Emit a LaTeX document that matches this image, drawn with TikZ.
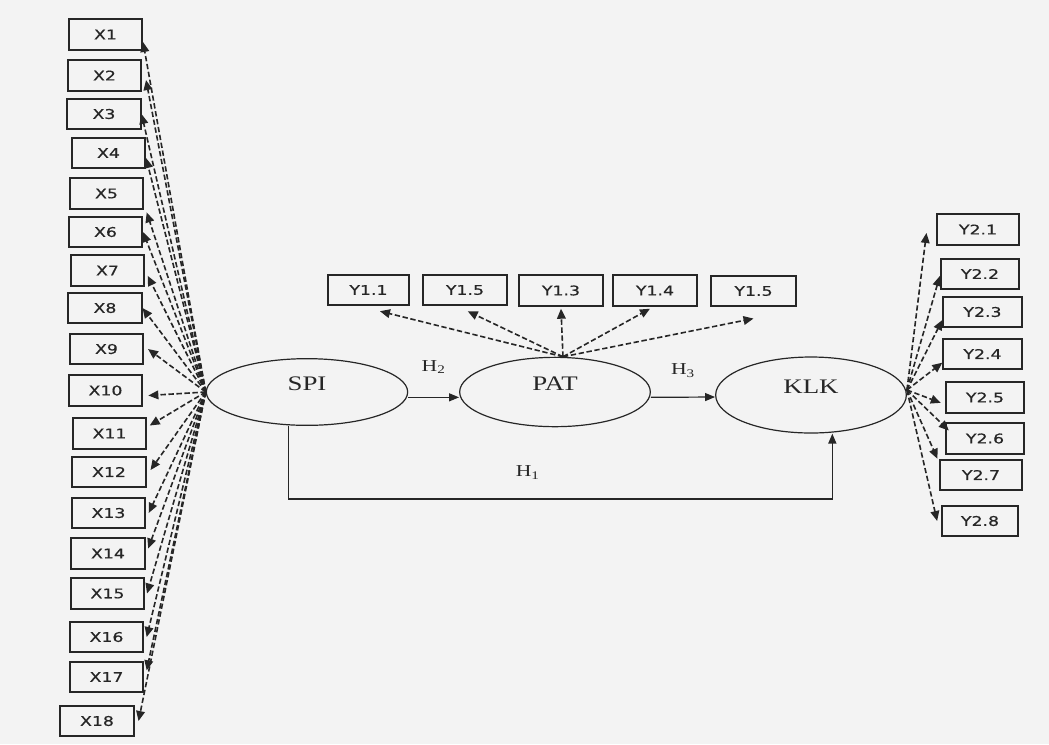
\documentclass[tikz,border=0pt]{standalone}
\usepackage{fontspec}
\setmainfont{Liberation Serif}[FakeStretch=1.3]
\newfontfamily\boxfont{DejaVu Sans}[FakeStretch=1.3,FakeBold=0.6]
\usetikzlibrary{positioning}
\usetikzlibrary{shapes.geometric}
\usetikzlibrary{arrows.meta}
\definecolor{ink}{HTML}{262626}
\definecolor{paper}{HTML}{F3F3F3}
\tikzset{ %indicator boxes and latent ellipses
  indbox/.style={draw=ink,line width=1.3pt,rectangle,minimum width=55pt,minimum height=23pt,
    inner sep=0pt,text=ink,font=\boxfont\fontsize{10}{12}\selectfont},
  latent/.style={draw=ink,ellipse,line width=0.9pt,inner sep=0pt,text depth=12pt,text=ink,
    font=\fontsize{15.5}{18}\selectfont}
}

\begin{document}
\begin{tikzpicture}[x=0.75pt,y=-0.75pt,
         ldg/.style={draw=ink,line width=1.2pt,dash pattern=on 4pt off 2pt,-{Triangle[length=7.5pt,width=6.5pt]}},
         hyp/.style={draw=ink,line width=0.9pt,-{Triangle[length=7.5pt,width=6pt]}},
         hlab/.style={text=ink,font=\fontsize{12.5}{14}\selectfont},
      every node/.append style={align=center}]
      % background
         \fill[paper] (0,0) rectangle (1049,744);
      % latent variables
         \node (spi) at (307,392) [latent,minimum width=151pt,minimum height=50pt] {SPI};
         \node (pat) at (555,392) [latent,minimum width=143pt,minimum height=52pt] {PAT};
         \node (klk) at (811,395) [latent,minimum width=143pt,minimum height=57pt] {KLK};
      %
         \node (x1) at (105.5,34.5) [indbox] {X1};
         \node (x2) at (104.5,75.5) [indbox] {X2};
         \node (x3) at (104,114) [indbox] {X3};
         \node (x4) at (108.5,153) [indbox] {X4};
         \node (x5) at (106.5,193.5) [indbox] {X5};
         \node (x6) at (105.5,232) [indbox] {X6};
         \node (x7) at (107.5,270.5) [indbox] {X7};
         \node (x8) at (105,308) [indbox] {X8};
         \node (x9) at (106.5,349) [indbox] {X9};
         \node (x10) at (105.5,390.5) [indbox] {X10};
         \node (x11) at (109.5,433.5) [indbox] {X11};
         \node (x12) at (109,472) [indbox] {X12};
         \node (x13) at (108.5,513) [indbox] {X13};
         \node (x14) at (108,553.5) [indbox] {X14};
         \node (x15) at (107.5,593.5) [indbox] {X15};
         \node (x16) at (106.5,637) [indbox] {X16};
         \node (x17) at (106.5,677) [indbox] {X17};
         \node (x18) at (97,721) [indbox] {X18};
         \draw[ldg] (spi.west) -- ([yshift=-5.6pt]x1.east);
         \draw[ldg] (spi.west) -- ([xshift=3pt,yshift=-3.4pt]x2.east);
         \draw[ldg] (spi.west) -- (x3.east);
         \draw[ldg] (spi.west) -- ([yshift=-3.75pt]x4.east);
         \draw[ldg] (spi.west) -- ([xshift=2pt,yshift=-2pt]x5.south east);
         \draw[ldg] (spi.west) -- (x6.east);
         \draw[ldg] (spi.west) -- ([xshift=2pt,yshift=-4pt]x7.east);
         \draw[ldg] (spi.west) -- (x8.east);
         \draw[ldg] (spi.west) -- ([xshift=3pt]x9.east);
         \draw[ldg] (spi.west) -- ([xshift=4pt,yshift=-3.75pt]x10.east);
         \draw[ldg] (spi.west) -- ([xshift=2pt,yshift=6pt]x11.east);
         \draw[ldg] (spi.west) -- ([xshift=3pt,yshift=1.5pt]x12.east);
         \draw[ldg] (spi.west) -- ([xshift=2pt]x13.east);
         \draw[ldg] (spi.west) -- ([xshift=2pt,yshift=3.75pt]x14.east);
         \draw[ldg] (spi.west) -- ([xshift=1.5pt]x15.east);
         \draw[ldg] (spi.west) -- ([xshift=2pt]x16.east);
         \draw[ldg] (spi.west) -- ([xshift=2pt,yshift=5pt]x17.east);
         \draw[ldg] (spi.west) -- ([xshift=3pt]x18.east);
      %
         \node (y11) at (368.5,290) [indbox,minimum width=61pt] {Y1.1};
         \node (y15a) at (465,290) [indbox,minimum width=63pt] {Y1.5};
         \node (y13) at (561,290.5) [indbox,minimum width=63pt] {Y1.3};
         \node (y14) at (655,290.5) [indbox,minimum width=63pt] {Y1.4};
         \node (y15b) at (753.5,291) [indbox,minimum width=64pt] {Y1.5};
         \coordinate (pattop) at ([xshift=6pt]pat.north);
         \draw[ldg] (pattop) -- ([xshift=8.6pt,yshift=-3.75pt]y11.south);
         \draw[ldg] (pattop) -- ([xshift=2pt,yshift=-3.75pt]y15a.south);
         \draw[ldg] (pattop) -- ([yshift=-1.5pt]y13.south);
         \draw[ldg] (pattop) -- ([xshift=-3.75pt,yshift=-1.5pt]y14.south);
         \draw[ldg] (pattop) -- ([yshift=-8.5pt]y15b.south);
      %
         \node (y21) at (978,229.5) [indbox,minimum width=62pt] {Y2.1};
         \node (y22) at (980,274) [indbox,minimum width=59pt] {Y2.2};
         \node (y23) at (982.5,312) [indbox,minimum width=59pt] {Y2.3};
         \node (y24) at (982.5,354) [indbox,minimum width=59pt] {Y2.4};
         \node (y25) at (985,397.5) [indbox,minimum width=59pt] {Y2.5};
         \node (y26) at (985,438.5) [indbox,minimum width=59pt] {Y2.6};
         \node (y27) at (981,475) [indbox,minimum width=61pt] {Y2.7};
         \node (y28) at (980,521) [indbox,minimum width=57pt] {Y2.8};
         \coordinate (klkout) at ([yshift=3.75pt]klk.east);
         \draw[ldg] (klkout) -- ([xshift=-7pt,yshift=-2.6pt]y21.west);
         \draw[ldg] (klkout) -- ([yshift=-1.5pt]y22.west);
         \draw[ldg] (klkout) -- ([yshift=-6pt]y23.west);
         \draw[ldg] (klkout) -- ([yshift=-6.5pt]y24.west);
         \draw[ldg] (klkout) -- ([xshift=-3pt,yshift=-4pt]y25.west);
         \draw[ldg] (klkout) -- ([xshift=3pt,yshift=6pt]y26.west);
         \draw[ldg] (klkout) -- ([xshift=-1.5pt]y27.north west);
         \draw[ldg] (klkout) -- ([xshift=-3pt]y28.west);
      % hypotheses
         \draw[hyp] ([yshift=-4pt]spi.east) -- node[hlab,above=14pt] {H\textsubscript{2}} ([yshift=-4pt]pat.west);
         \draw[hyp] ([yshift=-4pt]pat.east) -- node[hlab,above=11pt] {H\textsubscript{3}} ([yshift=-1.5pt]klk.west);
         \draw[hyp,line width=1.2pt] ([xshift=-14pt]spi.south) -- ++(0,73)
            -| node[hlab,pos=0.22,above=11pt] {H\textsubscript{1}} ([xshift=16pt]klk.south);
   \end{tikzpicture}
\end{document}
